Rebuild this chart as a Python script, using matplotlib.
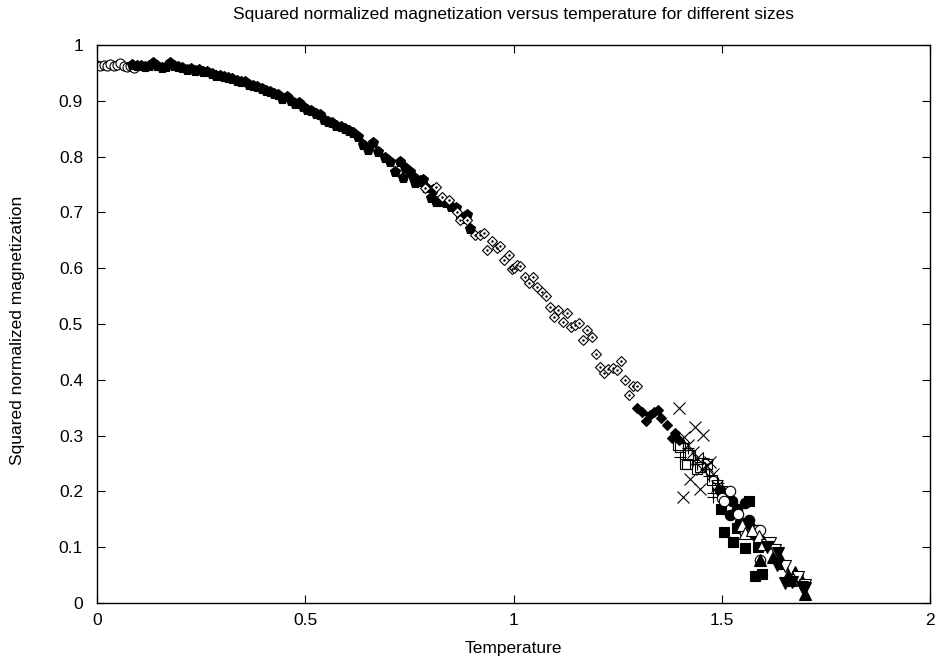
import matplotlib
matplotlib.use("Agg")
import matplotlib.pyplot as plt

plt.rcParams['font.family'] = ['Liberation Sans', 'DejaVu Sans']

# ---- data -------------------------------------------------------------
circ_open_T = [0.000, 0.008, 0.016, 0.024, 0.032, 0.040, 0.048, 0.056, 0.064, 0.072, 0.080, 0.088]
circ_open_M = [0.964, 0.962, 0.965, 0.963, 0.966, 0.962, 0.964, 0.967, 0.963, 0.960, 0.962, 0.958]

pent_T = [0.085, 0.095, 0.105, 0.115, 0.125, 0.135, 0.145, 0.155, 0.165, 0.175,
          0.185, 0.195, 0.205, 0.215, 0.225, 0.235, 0.245, 0.255, 0.265, 0.275,
          0.285, 0.295, 0.305, 0.315, 0.325, 0.335, 0.345, 0.355, 0.365, 0.375,
          0.385, 0.395, 0.405, 0.415, 0.425, 0.435, 0.445, 0.455, 0.465, 0.475,
          0.485, 0.495, 0.505, 0.515, 0.525, 0.535, 0.545, 0.555, 0.565, 0.575,
          0.585, 0.595, 0.605, 0.615, 0.627, 0.639, 0.651, 0.663, 0.675, 0.691,
          0.703, 0.715, 0.727, 0.735, 0.739, 0.751, 0.759, 0.763, 0.771, 0.775,
          0.783, 0.791, 0.803, 0.807, 0.815, 0.827, 0.839, 0.851, 0.863, 0.875,
          0.888, 0.896]
pent_M = [0.965, 0.963, 0.962, 0.961, 0.963, 0.968, 0.962, 0.958, 0.961, 0.967,
          0.962, 0.960, 0.958, 0.955, 0.957, 0.954, 0.955, 0.951, 0.952, 0.948,
          0.944, 0.945, 0.942, 0.941, 0.939, 0.936, 0.933, 0.934, 0.929, 0.927,
          0.925, 0.922, 0.918, 0.916, 0.913, 0.910, 0.904, 0.906, 0.899, 0.895,
          0.896, 0.888, 0.884, 0.882, 0.876, 0.874, 0.866, 0.862, 0.861, 0.855,
          0.853, 0.849, 0.845, 0.842, 0.836, 0.821, 0.812, 0.824, 0.809, 0.797,
          0.791, 0.773, 0.791, 0.761, 0.779, 0.773, 0.764, 0.752, 0.755, 0.756,
          0.758, 0.744, 0.725, 0.740, 0.719, 0.719, 0.716, 0.710, 0.707, 0.689,
          0.695, 0.671]

diam_open_T = [0.787, 0.815, 0.828, 0.845, 0.864, 0.872, 0.888, 0.908, 0.920, 0.928,
               0.937, 0.948, 0.960, 0.968, 0.977, 0.988, 0.996, 1.000, 1.008, 1.016,
               1.028, 1.038, 1.048, 1.057, 1.068, 1.078, 1.088, 1.097, 1.108, 1.118,
               1.128, 1.138, 1.148, 1.158, 1.168, 1.177, 1.188, 1.197, 1.208, 1.217,
               1.228, 1.238, 1.248, 1.257, 1.268, 1.277, 1.288, 1.297]
diam_open_M = [0.743, 0.746, 0.728, 0.722, 0.701, 0.686, 0.686, 0.659, 0.659, 0.663,
               0.632, 0.648, 0.636, 0.639, 0.615, 0.624, 0.598, 0.600, 0.606, 0.604,
               0.585, 0.573, 0.585, 0.566, 0.558, 0.551, 0.531, 0.513, 0.525, 0.504,
               0.519, 0.495, 0.498, 0.502, 0.471, 0.489, 0.476, 0.446, 0.423, 0.413,
               0.419, 0.422, 0.418, 0.434, 0.400, 0.372, 0.389, 0.388]

diam_fill_T = [1.297, 1.308, 1.318, 1.328, 1.337, 1.348, 1.355, 1.368, 1.380, 1.388, 1.398]
diam_fill_M = [0.349, 0.343, 0.326, 0.337, 0.343, 0.346, 0.331, 0.319, 0.295, 0.304, 0.292]

cross_T = [1.398, 1.436, 1.456, 1.410, 1.420, 1.430, 1.440, 1.452, 1.472, 1.480,
           1.488, 1.424, 1.448, 1.408, 1.465]
cross_M = [0.349, 0.316, 0.301, 0.298, 0.283, 0.270, 0.260, 0.240, 0.253, 0.232,
           0.209, 0.223, 0.205, 0.190, 0.245]

plus_T = [1.400, 1.408, 1.420, 1.432, 1.440, 1.456, 1.462, 1.470, 1.478, 1.480, 1.490]
plus_M = [0.262, 0.286, 0.277, 0.256, 0.250, 0.259, 0.240, 0.228, 0.197, 0.190, 0.215]

sq_open_T = [1.396, 1.400, 1.412, 1.416, 1.420, 1.424, 1.440, 1.448, 1.464, 1.476, 1.488, 1.500]
sq_open_M = [0.283, 0.280, 0.250, 0.250, 0.265, 0.265, 0.241, 0.244, 0.250, 0.220, 0.211, 0.200]

sq_fill_T = [1.497, 1.506, 1.528, 1.537, 1.556, 1.566, 1.588, 1.580, 1.597]
sq_fill_M = [0.168, 0.128, 0.110, 0.134, 0.098, 0.182, 0.101, 0.048, 0.052]

circ_fill_T = [1.496, 1.512, 1.520, 1.524, 1.536, 1.544, 1.556, 1.566, 1.568, 1.580, 1.592]
circ_fill_M = [0.203, 0.190, 0.158, 0.182, 0.169, 0.146, 0.180, 0.149, 0.136, 0.122, 0.113]

circ_open2_T = [1.500, 1.505, 1.520, 1.540, 1.556, 1.584, 1.592, 1.592]
circ_open2_M = [0.188, 0.182, 0.200, 0.160, 0.125, 0.131, 0.131, 0.077]

tri_open_T = [1.548, 1.556, 1.572, 1.590, 1.600]
tri_open_M = [0.140, 0.126, 0.130, 0.120, 0.105]

tri_fill_T = [1.592, 1.624, 1.640, 1.644, 1.660, 1.664, 1.676, 1.684, 1.688, 1.700]
tri_fill_M = [0.077, 0.083, 0.080, 0.071, 0.050, 0.041, 0.056, 0.047, 0.047, 0.017]

itri_open_T = [1.608, 1.617, 1.628, 1.652, 1.680, 1.683, 1.700]
itri_open_M = [0.104, 0.107, 0.095, 0.066, 0.042, 0.047, 0.032]

itri_fill_T = [1.608, 1.632, 1.636, 1.652, 1.668, 1.692, 1.700]
itri_fill_M = [0.101, 0.068, 0.089, 0.035, 0.038, 0.029, 0.026]

title = "Squared normalized magnetization versus temperature for different sizes"
xlabel = "Temperature"
ylabel = "Squared normalized magnetization"
xticks = [0, 0.5, 1, 1.5, 2]
xticklabels = ["0", "0.5", "1", "1.5", "2"]
yticks = [0, 0.1, 0.2, 0.3, 0.4, 0.5, 0.6, 0.7, 0.8, 0.9, 1]
yticklabels = ["0", "0.1", "0.2", "0.3", "0.4", "0.5", "0.6", "0.7", "0.8", "0.9", "1"]

# ---- plot -------------------------------------------------------------
fig = plt.figure(figsize=(9.39, 6.60), dpi=100)
ax = fig.add_axes([97/939, 1 - 603/660, (930 - 97)/939, (603 - 45)/660])

ew = 0.8
FS = 12.5

def openm(T, M, marker, ms, dot=False):
    ax.plot(T, M, linestyle='none', marker=marker, ms=ms, mfc='white',
            mec='black', mew=ew)
    if dot:
        ax.plot(T, M, linestyle='none', marker='.', ms=1.5, color='black')

def fillm(T, M, marker, ms):
    ax.plot(T, M, linestyle='none', marker=marker, ms=ms, mfc='black',
            mec='black', mew=ew)

openm(circ_open_T, circ_open_M, 'o', 6.5)
fillm(pent_T, pent_M, 'p', 8)
openm(diam_open_T, diam_open_M, 'D', 5.4, dot=True)
fillm(diam_fill_T, diam_fill_M, 'D', 5.4)
ax.plot(cross_T, cross_M, linestyle='none', marker='x', ms=8, color='black', mew=ew)
ax.plot(plus_T, plus_M, linestyle='none', marker='+', ms=8.5, color='black', mew=ew)
ax.plot(sq_open_T, sq_open_M, linestyle='none', marker='s', ms=7, mfc='none', mec='black', mew=ew)
fillm(sq_fill_T, sq_fill_M, 's', 7)
fillm(circ_fill_T, circ_fill_M, 'o', 7.5)
openm(circ_open2_T, circ_open2_M, 'o', 7.5)
openm(tri_open_T, tri_open_M, '^', 8)
fillm(tri_fill_T, tri_fill_M, '^', 8)
openm(itri_open_T, itri_open_M, 'v', 8)
fillm(itri_fill_T, itri_fill_M, 'v', 8)

ax.set_xlim(0, 2)
ax.set_ylim(0, 1)
ax.set_xticks(xticks)
ax.set_xticklabels(xticklabels)
ax.set_yticks(yticks)
ax.set_yticklabels(yticklabels)
ax.tick_params(direction='in', length=6, width=0.8, top=True, right=True,
               labelsize=FS, colors='black')
ax.tick_params(axis='y', pad=10)
ax.tick_params(axis='x', pad=7)
for s in ax.spines.values():
    s.set_linewidth(1.0)

fig.text((97 + 930) / 2 / 939, 1 - 14 / 660, title, ha='center', va='center', fontsize=FS)
fig.text((97 + 930) / 2 / 939, 1 - 648 / 660, xlabel, ha='center', va='center', fontsize=FS)
fig.text(18 / 939, 1 - 330 / 660, ylabel, ha='center', va='center', rotation=90, fontsize=FS)

fig.savefig("out.png", dpi=100)
